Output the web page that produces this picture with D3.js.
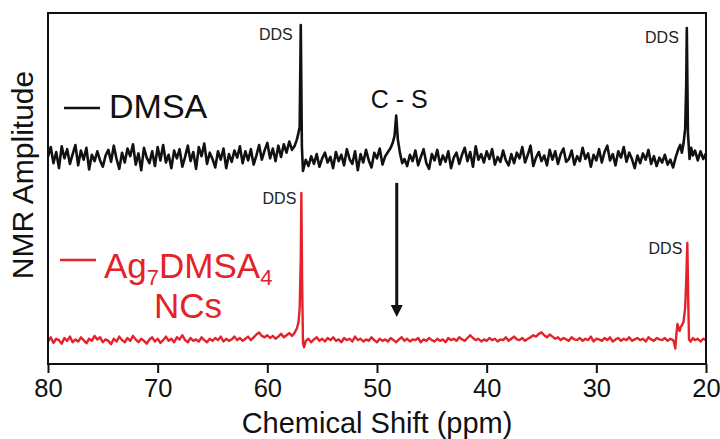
<!DOCTYPE html>
<html><head><meta charset="utf-8">
<script src="https://cdn.jsdelivr.net/npm/d3@7"></script>
<style>body{margin:0;background:#fff}svg{display:block}text{font-family:"Liberation Sans",Arial,sans-serif}</style>
</head><body><svg id="c" width="720" height="439"></svg>
<script>
// x tick values (ppm)
const xTicks = [80, 70, 60, 50, 40, 30, 20];
// DMSA spectrum: [ppm, amplitude]
const dmsa = [
[80,59.0],[79.75,61.8],[79.5,57.2],[79.25,60.4],[79,55.8],[78.75,62.0],[78.5,58.6],[78.25,61.2],[78,57.0],[77.75,59.8],
[77.5,62.4],[77.25,56.6],[77,60.8],[76.75,58.2],[76.5,61.6],[76.25,55.4],[76,59.6],[75.75,57.8],[75.5,60.6],[75.25,58.0],
[75,56.2],[74.75,59.4],[74.5,61.0],[74.25,57.6],[74,62.2],[73.75,58.4],[73.5,55.6],[73.25,60.2],[73,57.4],[72.75,61.4],
[72.5,59.2],[72.25,62.6],[72,56.8],[71.75,60.0],[71.5,55.2],[71.25,61.6],[71,58.8],[70.75,57.2],[70.5,60.6],[70.25,56.4],
[70,61.8],[69.75,58.0],[69.5,62.4],[69.25,57.4],[69,59.6],[68.75,55.8],[68.5,60.8],[68.25,58.6],[68,61.2],[67.75,56.2],
[67.5,59.0],[67.25,62.2],[67,57.8],[66.75,60.4],[66.5,55.6],[66.25,61.8],[66,59.2],[65.75,62.8],[65.5,57.0],[65.25,60.2],
[65,58.4],[64.75,56.0],[64.5,60.6],[64.25,58.2],[64,61.4],[63.75,55.8],[63.5,59.8],[63.25,57.6],[63,60.8],[62.75,58.8],
[62.5,62.0],[62.25,57.2],[62,60.6],[61.75,58.0],[61.5,61.2],[61.25,56.8],[61,59.4],[60.75,62.4],[60.5,58.2],[60.25,60.8],
[60,63.0],[59.75,58.6],[59.5,61.4],[59.25,57.8],[59,62.2],[58.75,59.0],[58.5,62.6],[58.25,60.2],[58,63.4],[57.75,61.0],
[57.5,62.2],[57.3,64.0],[57.15,66.0],[57.05,67.5],[56.95,96.6],[56.85,62.0],[56.75,55.0],
[56.5,58.2],[56.25,56.4],[56,59.2],[55.75,57.0],[55.5,59.8],[55.25,56.2],[55,58.6],[54.75,60.2],[54.5,57.4],[54.25,59.0],
[54,55.8],[53.75,60.4],[53.5,57.8],[53.25,59.6],[53,56.6],[52.75,61.2],[52.5,58.4],[52.25,57.0],[52,60.6],[51.75,55.2],
[51.5,59.8],[51.25,57.4],[51,61.0],[50.75,58.0],[50.5,56.0],[50.25,60.2],[50,58.6],[49.75,61.4],[49.5,56.8],[49.25,59.2],
[49,60.4],[48.75,61.6],[48.55,63.2],[48.4,65.0],[48.25,70.8],[48.1,64.0],[47.9,60.0],[47.7,57.2],[47.5,58.4],
[47.25,56.4],[47,59.6],[46.75,57.8],[46.5,60.8],[46.25,56.6],[46,59.0],[45.75,61.2],[45.5,57.2],[45.25,55.6],[45,59.8],
[44.75,58.0],[44.5,61.0],[44.25,56.8],[44,59.4],[43.75,57.6],[43.5,60.6],[43.25,55.8],[43,58.8],[42.75,60.2],[42.5,57.0],
[42.25,59.6],[42,61.6],[41.75,57.8],[41.5,60.4],[41.25,56.2],[41,62.0],[40.75,58.2],[40.5,59.8],[40.25,57.4],[40,60.6],
[39.75,58.4],[39.5,61.2],[39.25,56.8],[39,59.0],[38.75,57.6],[38.5,60.8],[38.25,58.0],[38,56.6],[37.75,59.8],[37.5,57.2],
[37.25,60.2],[37,58.6],[36.75,61.8],[36.5,57.4],[36.25,59.6],[36,62.2],[35.75,56.4],[35.5,58.8],[35.25,60.4],[35,57.8],
[34.75,59.4],[34.5,56.6],[34.25,61.0],[34,58.2],[33.75,60.6],[33.5,57.0],[33.25,59.8],[33,61.4],[32.75,57.6],[32.5,58.4],
[32.25,60.8],[32,56.8],[31.75,59.2],[31.5,57.8],[31.25,61.6],[31,58.4],[30.75,60.0],[30.5,56.2],[30.25,59.6],[30,58.0],
[29.75,61.2],[29.5,57.4],[29.25,60.4],[29,62.2],[28.75,58.0],[28.5,59.8],[28.25,56.6],[28,60.6],[27.75,58.8],[27.5,61.8],
[27.25,57.6],[27,60.2],[26.75,58.4],[26.5,55.8],[26.25,59.4],[26,57.2],[25.75,60.0],[25.5,58.2],[25.25,61.0],[25,57.0],
[24.75,59.2],[24.5,56.4],[24.25,58.8],[24,57.4],[23.75,59.6],[23.5,56.8],[23.25,58.2],[23,56.0],[22.75,59.0],[22.5,61.4],
[22.35,62.4],[22.2,60.2],[22.05,62.8],[21.9,67.0],[21.8,80.0],[21.75,95.7],[21.65,66.0],[21.5,58.4],[21.35,61.6],[21.2,59.4],
[21,60.8],[20.75,58.0],[20.5,60.6],[20.25,58.4],[20,60.0]
];
// Ag7DMSA4 NCs spectrum: [ppm, amplitude]
const ncs = [
[80,6.4],[79.75,7.6],[79.5,6.0],[79.25,7.2],[79,6.8],[78.75,5.8],[78.5,7.4],[78.25,6.6],[78,7.8],[77.75,6.2],
[77.5,7.0],[77.25,6.4],[77,7.6],[76.75,6.8],[76.5,5.9],[76.25,7.2],[76,6.6],[75.75,8.0],[75.5,7.0],[75.25,7.6],
[75,6.2],[74.75,7.0],[74.5,6.6],[74.25,5.6],[74,7.2],[73.75,6.4],[73.5,7.8],[73.25,6.8],[73,6.2],[72.75,7.4],
[72.5,6.6],[72.25,8.0],[72,7.0],[71.75,6.2],[71.5,7.2],[71.25,6.6],[71,5.8],[70.75,7.0],[70.5,7.6],[70.25,6.4],
[70,7.2],[69.75,6.0],[69.5,6.8],[69.25,7.8],[69,6.6],[68.75,7.2],[68.5,6.2],[68.25,7.6],[68,7.0],[67.75,8.2],
[67.5,6.8],[67.25,6.2],[67,7.4],[66.75,6.6],[66.5,7.0],[66.25,6.4],[66,7.6],[65.75,6.8],[65.5,6.2],[65.25,7.2],
[65,6.6],[64.75,7.4],[64.5,6.8],[64.25,7.8],[64,6.4],[63.75,7.2],[63.5,6.6],[63.25,7.0],[63,7.8],[62.75,6.8],
[62.5,7.4],[62.25,6.6],[62,7.2],[61.75,7.8],[61.5,6.8],[61.25,7.6],[61,8.4],[60.75,9.0],[60.5,8.0],[60.25,7.6],
[60,8.2],[59.75,7.4],[59.5,8.0],[59.25,7.2],[59,7.8],[58.75,8.6],[58.5,7.6],[58.25,8.2],[58,8.8],[57.75,8.0],
[57.5,9.0],[57.3,10.2],[57.15,12.0],[57.05,16.0],[56.95,30.0],[56.9,48.7],[56.83,24.0],[56.75,6.0],[56.65,4.8],
[56.5,6.6],[56.25,7.2],[56,6.2],[55.75,7.0],[55.5,7.6],[55.25,6.6],[55,7.2],[54.75,6.4],[54.5,7.4],[54.25,6.8],
[54,7.6],[53.75,6.6],[53.5,7.0],[53.25,6.2],[53,7.4],[52.75,6.8],[52.5,7.2],[52.25,6.4],[52,7.8],[51.75,6.8],
[51.5,7.2],[51.25,6.4],[51,7.0],[50.75,6.6],[50.5,7.6],[50.25,6.8],[50,6.2],[49.75,7.2],[49.5,6.6],[49.25,7.0],
[49,6.4],[48.75,7.4],[48.5,6.8],[48.25,6.2],[48,7.0],[47.75,7.6],[47.5,6.6],[47.25,7.2],[47,6.4],[46.75,7.0],
[46.5,6.8],[46.25,7.4],[46,6.2],[45.75,7.0],[45.5,6.6],[45.25,7.4],[45,6.8],[44.75,6.4],[44.5,7.2],[44.25,6.6],
[44,7.0],[43.75,6.2],[43.5,7.4],[43.25,6.8],[43,7.2],[42.75,6.6],[42.5,7.6],[42.25,7.0],[42,6.6],[41.75,7.4],
[41.5,8.2],[41.25,7.4],[41,6.8],[40.75,7.2],[40.5,6.4],[40.25,7.0],[40,6.6],[39.75,7.4],[39.5,6.8],[39.25,7.2],
[39,6.4],[38.75,7.0],[38.5,6.8],[38.25,7.6],[38,6.6],[37.75,7.2],[37.5,7.8],[37.25,7.0],[37,6.8],[36.75,7.4],
[36.5,6.6],[36.25,7.2],[36,7.6],[35.75,8.2],[35.5,7.8],[35.25,8.6],[35,9.0],[34.75,8.2],[34.5,7.6],[34.25,8.4],
[34,7.8],[33.75,7.2],[33.5,7.6],[33.25,6.8],[33,7.4],[32.75,7.0],[32.5,6.6],[32.25,7.6],[32,7.0],[31.75,6.8],
[31.5,7.4],[31.25,6.6],[31,7.2],[30.75,6.8],[30.5,7.8],[30.25,6.4],[30,7.2],[29.75,7.0],[29.5,6.6],[29.25,7.4],
[29,6.8],[28.75,7.6],[28.5,6.4],[28.25,7.0],[28,7.4],[27.75,6.6],[27.5,7.2],[27.25,6.8],[27,7.6],[26.75,6.6],
[26.5,7.0],[26.25,7.4],[26,6.8],[25.75,7.2],[25.5,6.4],[25.25,7.6],[25,7.0],[24.75,6.6],[24.5,7.4],[24.25,7.0],
[24,6.8],[23.75,7.4],[23.5,6.6],[23.25,7.2],[23,6.8],[22.9,6.0],[22.8,4.4],[22.7,8.5],[22.6,11.4],[22.5,10.2],
[22.4,9.4],[22.3,10.6],[22.2,11.0],[22.05,12.0],[21.9,16.0],[21.8,24.0],[21.7,34.5],[21.62,18.0],[21.55,7.0],[21.4,6.4],
[21.2,7.4],[21,6.8],[20.75,7.2],[20.5,6.4],[20.25,7.2],[20,6.8]
];
// annotations: [label, ppm, amplitude, series]
const ddsLabels = [["DDS",56.95,96.6,"dmsa"],["DDS",21.75,95.7,"dmsa"],["DDS",56.9,48.7,"ncs"],["DDS",21.7,34.5,"ncs"]];
const csLabel = ["C - S", 48.25, 70.8];
const arrowPpm = 48.2, arrowFrom = 51.6, arrowTo = 13.4;

const svg = d3.select("#c");
const M = {l:48, r:706, t:13, b:364};
const x = d3.scaleLinear().domain([80,20]).range([M.l, M.r]);
const y = d3.scaleLinear().domain([0,100]).range([M.b, M.t]);
const red = "#e5222a";

const line = d3.line().x(d=>x(d[0])).y(d=>y(d[1]));
svg.append("path").datum(dmsa).attr("d",line).attr("fill","none").attr("stroke","#111").attr("stroke-width",2.6).attr("stroke-linejoin","round");
svg.append("path").datum(ncs).attr("d",line).attr("fill","none").attr("stroke",red).attr("stroke-width",2.4).attr("stroke-linejoin","round");

// frame
svg.append("rect").attr("x",M.l).attr("y",M.t).attr("width",M.r-M.l).attr("height",M.b-M.t)
  .attr("fill","none").attr("stroke","#111").attr("stroke-width",2);

// x axis
const ax = svg.append("g").attr("transform",`translate(0,${M.b})`)
  .call(d3.axisBottom(x).tickValues(xTicks).tickSize(9).tickPadding(6).tickFormat(d3.format("d")));
ax.select(".domain").remove();
ax.selectAll("line").attr("stroke","#111").attr("stroke-width",2);
ax.selectAll("text").attr("font-size",25.5).attr("fill","#111");

svg.append("text").attr("x",(M.l+M.r)/2).attr("y",433).attr("text-anchor","middle")
  .attr("font-size",29).attr("fill","#111").text("Chemical Shift (ppm)");
svg.append("text").attr("transform","translate(33,175) rotate(-90)").attr("text-anchor","middle")
  .attr("font-size",30).attr("fill","#111").text("NMR Amplitude");

// DDS labels
svg.selectAll(".dds").data(ddsLabels).join("text").attr("class","dds")
  .attr("x",d=>x(d[1])-(d[3]==="dmsa"?8:5)).attr("y",d=>y(d[2])+(d[3]==="dmsa"?15:11)).attr("text-anchor","end")
  .attr("font-size",16).attr("fill","#222").text(d=>d[0]);
svg.append("text").attr("x",x(csLabel[1])+3).attr("y",y(csLabel[2])-7).attr("text-anchor","middle")
  .attr("font-size",25).attr("fill","#111").text(csLabel[0]);

// arrow
svg.append("line").attr("x1",x(arrowPpm)).attr("x2",x(arrowPpm)).attr("y1",y(arrowFrom)).attr("y2",y(arrowTo)-10)
  .attr("stroke","#111").attr("stroke-width",3);
svg.append("path").attr("d",`M${x(arrowPpm)-6},${y(arrowTo)-12}L${x(arrowPpm)+6},${y(arrowTo)-12}L${x(arrowPpm)},${y(arrowTo)}Z`).attr("fill","#111");

// legends
svg.append("line").attr("x1",64).attr("x2",100).attr("y1",108).attr("y2",108).attr("stroke","#111").attr("stroke-width",2.5);
svg.append("text").attr("x",109).attr("y",118).attr("font-size",34).attr("fill","#111").text("DMSA");
svg.append("line").attr("x1",60).attr("x2",96).attr("y1",260).attr("y2",260).attr("stroke",red).attr("stroke-width",2.5);
const t2 = svg.append("text").attr("x",104).attr("y",278).attr("font-size",35).attr("fill",red);
t2.append("tspan").text("Ag");
t2.append("tspan").attr("font-size",22).attr("dy",7).text("7");
t2.append("tspan").attr("dy",-7).text("DMSA");
t2.append("tspan").attr("font-size",22).attr("dy",7).text("4");
svg.append("text").attr("x",154).attr("y",318).attr("font-size",35).attr("fill",red).text("NCs");
</script></body></html>
